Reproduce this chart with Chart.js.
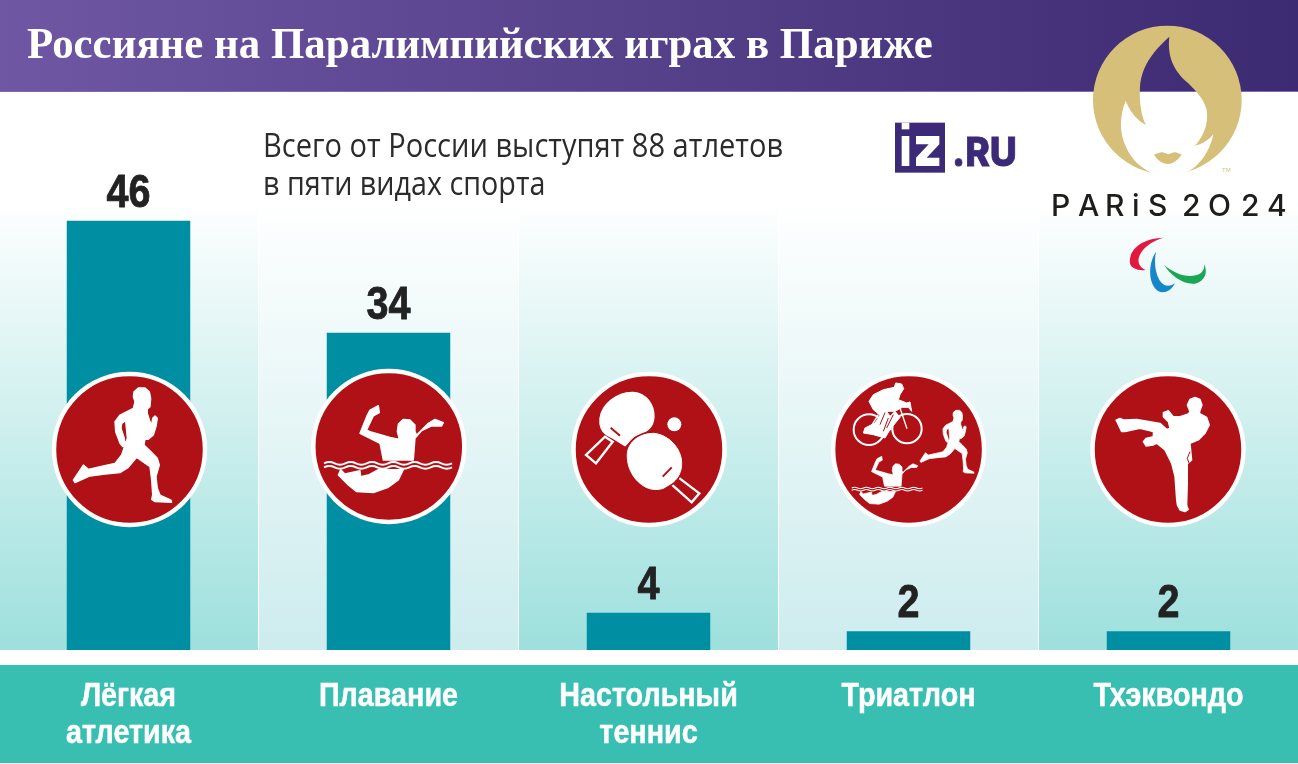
<!DOCTYPE html>
<html lang="ru"><head><meta charset="utf-8">
<script src="https://cdn.jsdelivr.net/npm/chart.js@4"></script>
<style>
html,body{margin:0;padding:0;width:1298px;height:764px;overflow:hidden;background:#fff}
#chart{position:absolute;left:-2px;top:0}
.t{position:absolute;white-space:nowrap;transform-origin:left top}
#title{left:27px;top:17px;font:bold 44.5px/52px "Liberation Serif",serif;color:#fff;transform:scaleX(.964)}
.sub{left:263px;font:33px/38px "Open Sans",sans-serif;color:#2b2b2b;transform:scaleX(.88)}
#sub2{transform:scaleX(.87)}
#logos{position:absolute;left:0;top:0}
</style></head><body>
<canvas id="chart" width="1302" height="764"></canvas>
<div class="t" id="title">Россияне на Паралимпийских играх в Париже</div>
<div class="t sub" style="top:126px">Всего от России выступят 88 атлетов</div>
<div class="t sub" id="sub2" style="top:164px">в пяти видах спорта</div>
<svg id="logos" width="1298" height="764" viewBox="0 0 1298 764" xmlns="http://www.w3.org/2000/svg">
<defs>
<path id="runner" fill="#fff" stroke="#fff" stroke-width="4" stroke-linejoin="round" d="M192 35 L205 24 L225 24 L238 35 L242 55 L240 80 L232 87 L232 100 L240 125 L245 135 L248 115 L255 108 L262 115 L258 140 L250 165 L235 178 L225 178 L222 195 L240 212 L262 235 L268 255 L258 290 L262 325 L270 345 L303 360 L305 367 L255 365 L245 358 L248 345 L245 300 L240 260 L200 232 L175 262 L150 278 L105 282 L60 288 L15 308 L10 300 L40 255 L55 268 L100 258 L135 250 L155 225 L165 195 L172 175 L167 122 L155 130 L153 145 L163 175 L165 195 L158 200 L150 190 L137 155 L135 125 L150 105 L190 85 L195 65 L190 50Z"/>
<g id="swimmer">
<path fill="#fff" stroke="#fff" stroke-width="4" stroke-linejoin="round" d="M175 17 L150 30 L142 45 L120 100 L135 108 L180 130 L190 180 L280 180 L285 115 L305 92 L335 78 L365 78 L370 68 L345 58 L325 70 L290 105 L285 95 L285 75 L270 60 L250 58 L235 72 L232 95 L238 118 L210 112 L150 95 L140 90 L160 48 L178 38Z"/>
<path fill="#fff" stroke="#fff" stroke-width="4" stroke-linejoin="round" d="M55 225 L62 209 L75 222 L120 212 L122 230 L145 225 L175 209 L250 209 L235 240 L205 262 L160 278 L110 275 L85 255Z"/>
<path fill="none" stroke="#fff" stroke-width="6" d="M12 190 q16 -8 32 0 t32 0 t32 0 t32 0 t32 0 t32 0 t32 0 t32 0 t32 0 t32 0 t32 0 t32 0 M12 202 q16 -8 32 0 t32 0 t32 0 t32 0 t32 0 t32 0 t32 0 t32 0 t32 0 t32 0 t32 0 t32 0"/>
</g>
<path id="pad1" d="M60 100 C65 60 110 20 160 22 C200 25 222 60 222 95 C220 125 205 140 170 150 C150 160 145 175 135 182 L100 160 L80 150 C65 140 58 120 60 100Z"/>
<path id="pad2" d="M142 205 C145 170 180 145 220 145 C265 148 305 190 305 235 C305 265 290 285 275 295 L250 310 C220 320 190 310 165 280 C150 260 140 235 142 205Z"/>
<mask id="flame" maskUnits="userSpaceOnUse" x="0" y="0" width="510" height="520">
<rect x="0" y="0" width="510" height="520" fill="#fff"/>
<path fill="#000" d="M253 50 C215 85 170 130 165 200 C162 250 170 290 183 315 C155 300 135 275 122 242 C105 285 100 335 125 385 C140 420 170 445 198 458 L198 510 L300 510 L300 458 C340 445 375 395 385 343 C370 362 350 372 330 378 C355 350 372 310 365 270 C358 240 335 215 310 190 C275 160 245 120 253 50Z"/>
<path fill="#fff" d="M207 403 C218 402 225 396 232 397 C240 398 245 402 250 403 C255 402 262 397 270 397 C277 397 282 402 290 403 C280 420 265 432 248 432 C232 432 216 420 207 403Z"/>
</mask>
</defs>
<!-- Paris 2024 emblem -->
<g transform="translate(1085 20) scale(.33333)">
<circle cx="247" cy="240" r="223" fill="#d6bf78" mask="url(#flame)"/>
</g>
<g transform="translate(880 10) scale(.33333)">
<path fill="#e2183f" d="M850 683 C790 685 745 715 750 760 C752 775 775 783 797 780 C775 770 768 750 785 725 C800 705 825 690 850 683Z"/>
<path fill="#1587c9" d="M828 725 C805 760 805 810 825 835 C840 855 870 850 885 820 C870 832 850 830 838 810 C825 785 822 755 828 725Z"/>
<path fill="#1aa653" d="M853 765 C880 790 930 810 962 790 C970 782 975 772 972 762 C985 785 975 815 945 821 C910 825 870 795 853 765Z"/>
<!-- iz logo -->
<rect x="45" y="338" width="150" height="150" fill="#3c2a78"/>
<rect x="65" y="338" width="23" height="20" fill="#fff"/>
<rect x="65" y="378" width="23" height="90" fill="#fff"/>
<path fill="#fff" d="M108 378 H178 V403 L140 443 H178 V468 H108 V443 L146 403 H108Z"/>
</g>
<text x="952" y="166" font-family="Inter,'Liberation Sans',sans-serif" font-weight="800" font-size="40" fill="#3c2a78" stroke="#3c2a78" stroke-width=".8" textLength="65" lengthAdjust="spacingAndGlyphs">.RU</text>
<text x="1222" y="172" font-family="'Liberation Sans',sans-serif" font-size="6" fill="#d6bf78">TM</text>
<text x="1051 1078 1105 1132 1148 1170 1182 1208 1241 1267" y="216" font-family="Inter,'Liberation Sans',sans-serif" font-weight="500" font-size="30" fill="#1d1d1b">PARiS 2O24</text>
<!-- pictograms -->
<circle cx="129.5" cy="449.5" r="75.5" fill="#b01116" stroke="#fff" stroke-width="4.5"/>
<use href="#runner" transform="translate(70 380) scale(.33333)"/>
<circle cx="388.8" cy="446.5" r="75.5" fill="#b01116" stroke="#fff" stroke-width="4.5"/>
<use href="#swimmer" transform="translate(320 400) scale(.33333)"/>
<circle cx="649" cy="449.5" r="75.5" fill="#b01116" stroke="#fff" stroke-width="4.5"/>
<g transform="translate(580 385) scale(.33333)">
<path d="M75 155 L98 170 L48 235 L18 210Z" fill="none" stroke="#fff" stroke-width="7"/>
<use href="#pad1" fill="#fff" stroke="#fff" stroke-width="4"/>
<path d="M92 128 L120 152" stroke="#b01116" stroke-width="6"/>
<path d="M288 272 L358 325 L335 352 L268 292Z" fill="none" stroke="#fff" stroke-width="7"/>
<use href="#pad2" fill="none" stroke="#b01116" stroke-width="12"/>
<use href="#pad2" fill="#fff" stroke="#fff" stroke-width="3"/>
<path d="M248 275 L275 247" stroke="#b01116" stroke-width="6"/>
<circle cx="283" cy="118" r="21" fill="#fff"/>
</g>
<circle cx="908.6" cy="449.5" r="75.5" fill="#b01116" stroke="#fff" stroke-width="4.5"/>
<g transform="translate(845 378) scale(.33333)">
<circle cx="72" cy="155" r="46" fill="none" stroke="#fff" stroke-width="6"/>
<circle cx="186" cy="152" r="44" fill="none" stroke="#fff" stroke-width="6"/>
<path fill="#fff" stroke="#fff" stroke-width="3" d="M72 70 L85 50 L115 35 L148 28 L152 15 L170 18 L176 32 L165 50 L160 65 L185 75 L195 72 L200 100 L190 88 L172 88 L150 100 L125 100 L135 115 L150 100 L165 118 L135 155 L120 180 L85 170 L55 165 L60 150 L90 135 L105 112 L85 95Z"/>
<path fill="none" stroke="#fff" stroke-width="4" d="M165 90 L186 152 M72 155 L100 110 M140 155 L72 155"/>
<path fill="none" stroke="#b01116" stroke-width="3" d="M120 104 L105 140 M130 120 L115 160 M145 110 L125 150"/>
<use href="#runner" transform="translate(219.5 83.8) scale(.55)"/>
<use href="#swimmer" transform="translate(13.4 225.6) scale(.553 .55)"/>
</g>
<circle cx="1168" cy="449.5" r="75.5" fill="#b01116" stroke="#fff" stroke-width="4.5"/>
<g transform="translate(1110 390) scale(.33333)">
<path fill="#fff" stroke="#fff" stroke-width="4" stroke-linejoin="round" d="M232 45 L240 28 L255 22 L270 28 L276 45 L270 62 L268 70 L290 82 L298 105 L285 130 L265 150 L240 160 L245 210 L232 222 L232 280 L230 345 L232 352 L235 358 L225 365 L210 360 L202 345 L200 330 L195 260 L185 220 L165 180 L140 160 L130 165 L108 168 L100 155 L108 145 L130 140 L130 125 L90 115 L45 125 L35 125 L18 90 L30 85 L42 90 L80 88 L120 95 L150 100 L170 118 L180 115 L175 95 L160 80 L160 68 L175 62 L190 80 L210 80 L235 72 L240 65Z"/>
<path fill="none" stroke="#b01116" stroke-width="3" d="M240 185 L232 205 L238 222"/>
</g>
</svg>
<script>
const categories = [["Лёгкая","атлетика"],["Плавание"],["Настольный","теннис"],["Триатлон"],["Тхэквондо"]];
const athletes = [46, 34, 4, 2, 2];
const axisMax = 60;

const COL = {bar:"#008ea3", strong:"#9de0dd", light:"#cdecee", footer:"#38bfb2"};
const SANS = '"Liberation Sans",sans-serif';

function narrowText(ctx,text,x,y,squeeze,weight){
  ctx.save(); ctx.translate(x,y); ctx.scale(squeeze,1);
  ctx.lineWidth=weight; ctx.lineJoin="round"; ctx.strokeStyle=ctx.fillStyle;
  ctx.strokeText(text,0,0); ctx.fillText(text,0,0); ctx.restore();
}
const backdrop = {
  id:"backdrop",
  beforeDraw(chart){
    const {ctx, scales:{x}, chartArea:a, width, height} = chart;
    ctx.save();
    ctx.fillStyle="#fff"; ctx.fillRect(0,0,width,height);
    const step = x.getPixelForValue(1)-x.getPixelForValue(0);
    categories.forEach((_,i)=>{
      const c = x.getPixelForValue(i);
      const g = ctx.createLinearGradient(0,200,0,a.bottom);
      g.addColorStop(0,"#ffffff");
      g.addColorStop(1,i%2?COL.light:COL.strong);
      ctx.fillStyle=g;
      ctx.fillRect(c-step/2+.5,200,step-1,a.bottom-200);
    });
    ctx.fillStyle=COL.footer; ctx.fillRect(0,665,width,98);
    const h = ctx.createLinearGradient(0,40,1300,40);
    h.addColorStop(0,"#6f57a3"); h.addColorStop(1,"#3c2a72");
    ctx.fillStyle=h; ctx.fillRect(0,0,width,91);
    ctx.fillStyle="#7c6bb0"; ctx.fillRect(0,91,width,1);
    ctx.restore();
  }
};
const labels = {
  id:"labels",
  afterDatasetsDraw(chart){
    const {ctx, scales:{x}} = chart;
    ctx.save();
    ctx.textAlign="center"; ctx.textBaseline="alphabetic";
    ctx.font='bold 46px '+SANS; ctx.fillStyle="#222";
    chart.getDatasetMeta(0).data.forEach((b,i)=>narrowText(ctx,String(athletes[i]),b.x,b.y-14,.86,.8));
    ctx.font='bold 33px '+SANS; ctx.fillStyle="#fff";
    categories.forEach((lines,i)=>lines.forEach((ln,k)=>narrowText(ctx,ln,x.getPixelForValue(i),706+k*37,.87,.5)));
    ctx.restore();
  }
};
new Chart(document.getElementById("chart"),{
  type:"bar",
  data:{labels:categories.map(l=>l.join(" ")),datasets:[{data:athletes,backgroundColor:COL.bar,borderWidth:0,barPercentage:.475,categoryPercentage:1}]},
  plugins:[backdrop,labels],
  options:{
    responsive:false,animation:false,events:[],
    layout:{padding:{top:90,left:.5,right:1.5,bottom:114}},
    plugins:{legend:{display:false},tooltip:{enabled:false},title:{display:false}},
    scales:{ y:{display:false,min:0,max:axisMax}, x:{display:false} }
  }
});
</script>
</body></html>
